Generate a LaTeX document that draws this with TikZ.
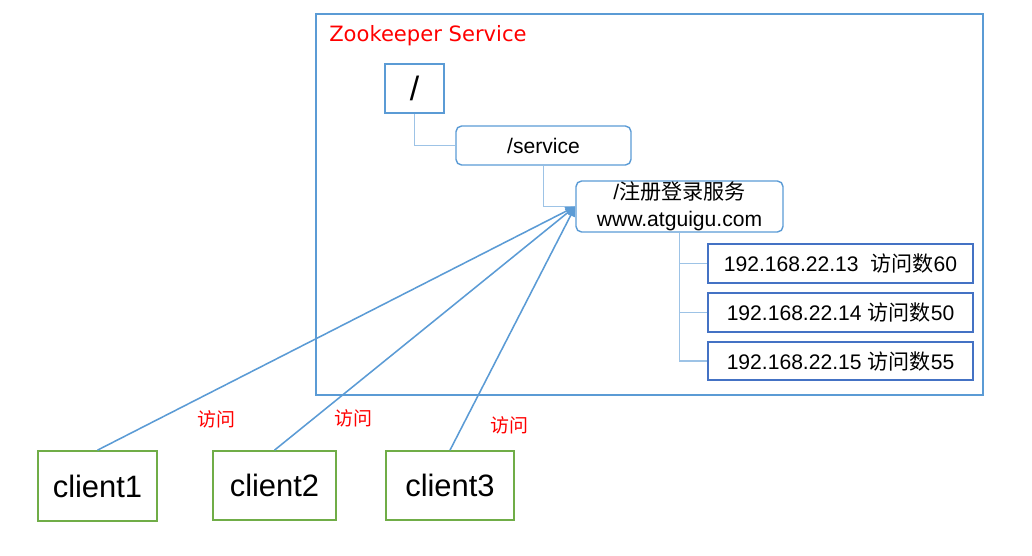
\documentclass[tikz,border=0pt]{standalone}
\usepackage{fontspec}
\setmainfont{Liberation Sans}
\newfontfamily\cjk{Noto Sans CJK SC}
\newfontfamily\zkfont{DejaVu Sans}
\usetikzlibrary{arrows.meta}

\definecolor{zkblue}{HTML}{5B9BD5}
\definecolor{hostblue}{HTML}{4472C4}
\definecolor{treeblue}{HTML}{9DC3E6}
\definecolor{clientgreen}{HTML}{70AD47}

\tikzset{
  rootbox/.style={draw=zkblue,line width=1pt,minimum width=1.475cm,minimum height=1.225cm,font=\fontsize{24}{28}\selectfont},
  znode/.style={draw=zkblue,line width=1pt,rounded corners=4pt,align=center},
  hostbox/.style={draw=hostblue,line width=1pt,minimum width=6.625cm,minimum height=0.975cm},
  clientbox/.style={draw=clientgreen,line width=1.2pt,minimum height=1.725cm,font=\fontsize{22}{26}\selectfont},
  treeline/.style={draw=treeblue,line width=1.1pt},
  visitline/.style={draw=zkblue,line width=1.1pt,-{Triangle[length=7pt,width=6pt]}},
  visitlabel/.style={draw=none,text=red,font=\cjk\fontsize{13.5}{16}\selectfont}
}

\begin{document}
\begin{tikzpicture}[x=0.025cm,y=-0.025cm,every node/.style={inner sep=0pt,font=\fontsize{15}{19}\selectfont}]

\useasboundingbox (0,0) rectangle (1032,555);

\draw[zkblue,line width=1pt] (316,14) rectangle (983,395);
\node[anchor=west,text=red,font=\zkfont\fontsize{15}{19}\selectfont] (title) at (329,36) {Zookeeper Service};

\node[rootbox] (root) at (414.5,88.5) {/};
\node[znode,minimum width=4.375cm,minimum height=0.975cm] (service) at (543.5,145.5) {/service};
\node[znode,minimum width=5.175cm,minimum height=1.275cm] (reg) at (679.5,206.5) {/{\cjk 注册登录服务}\\www.atguigu.com};

\node[hostbox] (h1) at (840.5,263.5) {192.168.22.13~~{\cjk 访问数}60};
\node[hostbox] (h2) at (840.5,312.5) {192.168.22.14 {\cjk 访问数}50};
\node[hostbox,minimum height=0.95cm] (h3) at (840.5,361) {192.168.22.15 {\cjk 访问数}55};

\node[clientbox,minimum width=2.975cm,minimum height=1.75cm] (c1) at (97.5,486) {client1};
\node[clientbox,minimum width=3.075cm] (c2) at (274.5,485.5) {client2};
\node[clientbox,minimum width=3.2cm] (c3) at (450,485.5) {client3};

\draw[treeline] (root.south) |- (service.west);
\draw[treeline] (service.south) |- (reg.west);
\foreach \h in {h1,h2,h3}
  \draw[treeline] (reg.south) |- (\h.west);

\foreach \c in {c1,c2,c3}
  \draw[visitline] (\c.north) -- (reg.west);

\node[visitlabel] (v1) at (216,419) {访问};
\node[visitlabel] (v2) at (353,418) {访问};
\node[visitlabel] (v3) at (509,425) {访问};

\end{tikzpicture}
\end{document}
